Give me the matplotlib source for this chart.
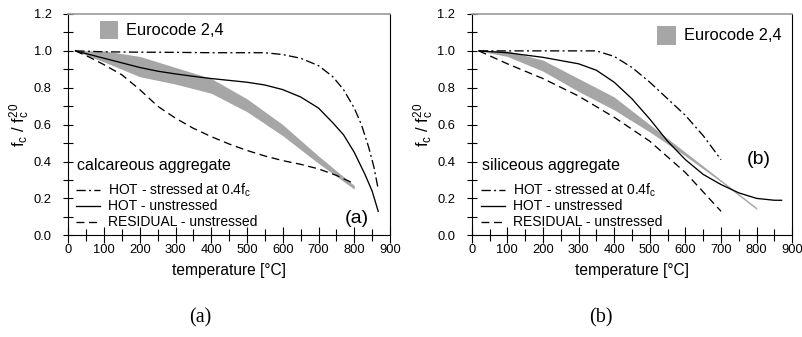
import matplotlib
matplotlib.use("Agg")
import matplotlib.pyplot as plt
from matplotlib.patches import Rectangle
from matplotlib.lines import Line2D

plt.rcParams['font.family'] = ['Liberation Sans', 'DejaVu Sans']
plt.rcParams['mathtext.default'] = 'regular'

# ---- calcareous aggregate ----
T_hs_a = [20, 100, 200, 300, 400, 500, 550, 600, 650, 700, 740, 770, 800, 820, 840, 855, 867]
v_hs_a = [1.0, 0.995, 0.993, 0.992, 0.99, 0.99, 0.99, 0.98, 0.96, 0.92, 0.86, 0.79, 0.69, 0.60, 0.48, 0.37, 0.25]

T_hu_a = [20, 60, 100, 150, 200, 250, 300, 350, 400, 450, 500, 550, 600, 650, 700, 740, 770, 800, 830, 850, 867]
v_hu_a = [1.0, 0.98, 0.96, 0.935, 0.91, 0.89, 0.875, 0.862, 0.85, 0.84, 0.83, 0.815, 0.79, 0.75, 0.69, 0.61, 0.545, 0.45, 0.33, 0.24, 0.13]

T_r_a = [20, 60, 100, 150, 200, 250, 300, 350, 400, 450, 500, 550, 600, 650, 700, 750, 800]
v_r_a = [1.0, 0.965, 0.925, 0.87, 0.79, 0.70, 0.635, 0.58, 0.535, 0.495, 0.46, 0.43, 0.405, 0.385, 0.36, 0.325, 0.28]

T_ec = [20, 100, 200, 300, 400, 500, 600, 700, 800]
ec_up_a = [1.0, 1.0, 0.97, 0.91, 0.85, 0.74, 0.60, 0.43, 0.27]
ec_lo_a = [1.0, 0.94, 0.86, 0.82, 0.77, 0.67, 0.54, 0.39, 0.25]

# ---- siliceous aggregate ----
T_hs_b = [20, 100, 200, 300, 350, 400, 450, 500, 550, 600, 650, 700]
v_hs_b = [1.0, 1.0, 1.0, 1.0, 1.0, 0.97, 0.91, 0.83, 0.74, 0.65, 0.54, 0.41]

T_hu_b = [20, 100, 200, 300, 350, 400, 450, 500, 550, 600, 650, 700, 750, 800, 850, 870]
v_hu_b = [1.0, 0.99, 0.965, 0.93, 0.895, 0.83, 0.74, 0.63, 0.51, 0.41, 0.33, 0.275, 0.23, 0.20, 0.19, 0.19]

T_r_b = [20, 100, 200, 300, 400, 500, 600, 700]
v_r_b = [1.0, 0.93, 0.85, 0.755, 0.64, 0.51, 0.34, 0.13]

ec_up_b = [1.0, 1.0, 0.95, 0.85, 0.75, 0.60, 0.45, 0.30, 0.15]
ec_lo_b = [1.0, 0.97, 0.89, 0.78, 0.68, 0.56, 0.43, 0.29, 0.14]

x_ticks = [0, 100, 200, 300, 400, 500, 600, 700, 800, 900]
y_ticks = [0.0, 0.2, 0.4, 0.6, 0.8, 1.0, 1.2]

band_color = '#a6a6a6'
lw = 0.95
dash = (0, (6, 3.5))
dashdot = (0, (7, 2.5, 1.5, 2.5))

fig = plt.figure(figsize=(8.03, 3.37), dpi=100)
W, H = 803, 337


def px_axes(x0, x1, y_top, y_bot):
    return fig.add_axes([x0 / W, 1 - y_bot / H, (x1 - x0) / W, (y_bot - y_top) / H])


def style(ax):
    ax.set_xlim(0, 900)
    ax.set_ylim(0, 1.2)
    ax.set_xticks(x_ticks)
    ax.set_xticks(range(50, 900, 100), minor=True)
    ax.set_yticks(y_ticks)
    ax.set_yticklabels([f'{v:.1f}' for v in y_ticks])
    ax.set_yticks([0.1, 0.3, 0.5, 0.7, 0.9, 1.1], minor=True)
    ax.tick_params(axis='x', which='major', direction='inout', length=11, width=0.8, labelsize=9.3, pad=1)
    ax.tick_params(axis='x', which='minor', direction='inout', length=9, width=0.8)
    ax.tick_params(axis='y', which='both', direction='inout', length=7, width=0.8, labelsize=9.3, pad=8.5)
    ax.tick_params(top=False, right=False, which='both')
    for s in ['left', 'bottom', 'right']:
        ax.spines[s].set_linewidth(0.8)
        ax.spines[s].set_color('black')
    ax.spines['top'].set_color('#999999')
    ax.spines['top'].set_linewidth(1.2)
    ax.set_xlabel('temperature [°C]', fontsize=11.2, labelpad=5)
    ax.set_ylabel(r'f$_c$ / f$_c^{20}$', fontsize=12, labelpad=1)


def draw_panel(ax, Tec, up, lo, Ths, vhs, Thu, vhu, Tr, vr, title, tag, tag_xy, leg_x, ec_xy):
    ax.fill_between(Tec, lo, up, color=band_color, lw=0, zorder=1)
    ax.plot(Ths, vhs, color='black', lw=lw, linestyle=dashdot, zorder=3)
    ax.plot(Thu, vhu, color='black', lw=lw, linestyle='-', zorder=3)
    ax.plot(Tr, vr, color='black', lw=lw, linestyle=dash, zorder=3)
    style(ax)

    # legend block placed in figure pixels
    tr = fig.transFigure
    def fx(x):
        return x / W
    def fy(y):
        return 1 - y / H
    fig.text(fx(leg_x), fy(165.5), title, fontsize=11.5, va='center', ha='left')
    rows = [(dashdot, r'HOT - stressed at 0.4f$_\mathregular{c}$', 190),
            ('-', 'HOT - unstressed', 206),
            (dash, 'RESIDUAL - unstressed', 222)]
    for ls, txt, y in rows:
        fig.add_artist(Line2D([fx(leg_x - 1), fx(leg_x + 23)], [fy(y), fy(y)],
                              transform=tr, color='black', lw=lw, linestyle=ls))
        fig.text(fx(leg_x + 31), fy(y), txt, fontsize=10, va='center', ha='left')
    # Eurocode swatch
    ex, ey = ec_xy
    fig.add_artist(Rectangle((fx(ex), fy(ey + 18.5)), 18.5 / W, 18.5 / H,
                             transform=tr, color=band_color, lw=0))
    fig.text(fx(ex + 26.5), fy(ey + 9.5), 'Eurocode 2,4', fontsize=11.8, va='center', ha='left')
    fig.text(fx(tag_xy[0]), fy(tag_xy[1]), tag, fontsize=14, va='center', ha='center')


ax_a = px_axes(68.3, 390.0, 14.0, 235.3)
ax_b = px_axes(471.7, 792.3, 14.0, 235.3)

draw_panel(ax_a, T_ec, ec_up_a, ec_lo_a, T_hs_a, v_hs_a, T_hu_a, v_hu_a, T_r_a, v_r_a,
           'calcareous aggregate', '(a)', (357, 218.5), 77, (100, 20.7))
draw_panel(ax_b, T_ec, ec_up_b, ec_lo_b, T_hs_b, v_hs_b, T_hu_b, v_hu_b, T_r_b, v_r_b,
           'siliceous aggregate', '(b)', (758.5, 160), 482, (657.3, 26))

# sub-figure captions
fig.text(200 / W, 1 - 318 / H, '(a)', fontsize=14.5, family='Liberation Serif', ha='center', va='center')
fig.text(601 / W, 1 - 318 / H, '(b)', fontsize=14.5, family='Liberation Serif', ha='center', va='center')

fig.savefig('out.png', dpi=100, facecolor='white')
